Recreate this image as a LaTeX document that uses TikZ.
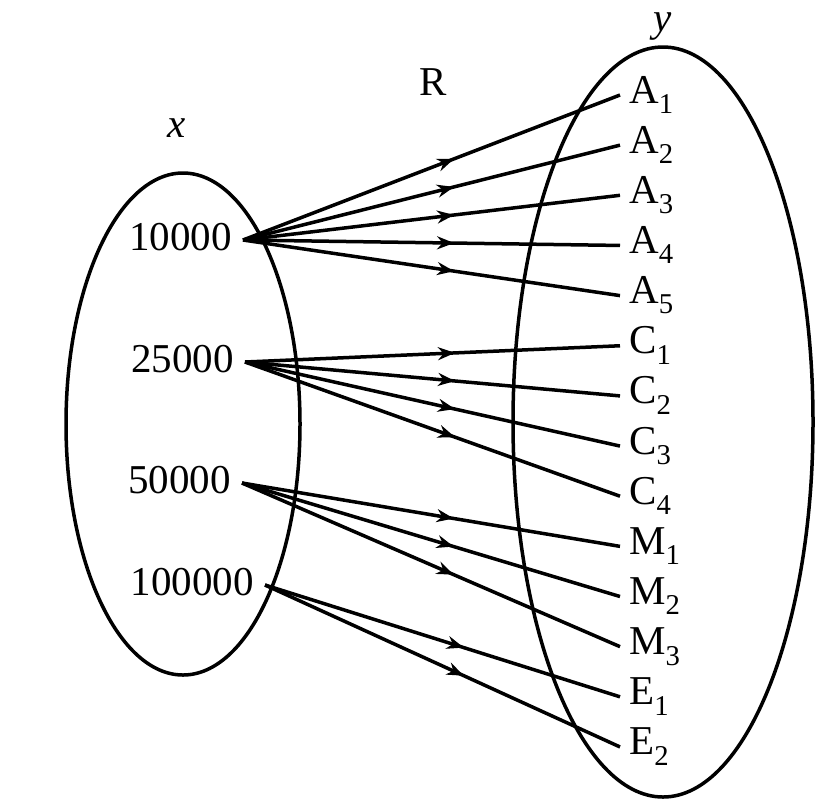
\documentclass[tikz,border=0pt]{standalone}
\usepackage{fontspec}
\setmainfont{Liberation Serif}
\usetikzlibrary{decorations.markings,arrows.meta}

\tikzset{
	set/.style={line width=3.5pt},
	src/.style={anchor=east, inner xsep=11pt, inner ysep=0pt, text height=27pt, text depth=7pt},
	tgt/.style={anchor=west, inner xsep=9pt, inner ysep=0pt, text height=26pt, text depth=10pt},
	rel/.style={line width=3.5pt, postaction={decorate},
		decoration={markings, mark=at position 0.56 with {\arrow{Stealth[length=17pt,width=13pt]}}}},
}

\begin{document}
\begin{tikzpicture}[x=1pt,y=-1pt,font=\fontsize{41}{49}\selectfont]
	\useasboundingbox (0,0) rectangle (826,807);

	% sets
	\draw[set] (183,424) ellipse [x radius=117pt, y radius=251pt];
	\draw[set] (663,422) ellipse [x radius=150pt, y radius=375pt];
	\node (lx) at (177,128) {\textit{x}};
	\node (lR) at (433,82) {R};
	\node[inner sep=0pt] (ly) at (663,27) {\textit{y}};

	% domain
	\node[src] (s1) at (243,240) {10000};
	\node[src] (s2) at (245,362) {25000};
	\node[src] (s3) at (242,483) {50000};
	\node[src] (s4) at (265,585) {100000};

	% codomain
	\foreach \l/\n [count=\i] in {A/1,A/2,A/3,A/4,A/5,C/1,C/2,C/3,C/4,M/1,M/2,M/3,E/1,E/2}
		\node[tgt] (t\i) at (620,{95+50.15*(\i-1)}) {\l\textsubscript{\n}};

	% relation
	\foreach \s/\t in {1/1,1/2,1/3,1/4,1/5,2/6,2/7,2/8,2/9,3/10,3/11,3/12,4/13,4/14}
		\draw[rel] (s\s.east) -- (t\t.west);

\end{tikzpicture}
\end{document}
